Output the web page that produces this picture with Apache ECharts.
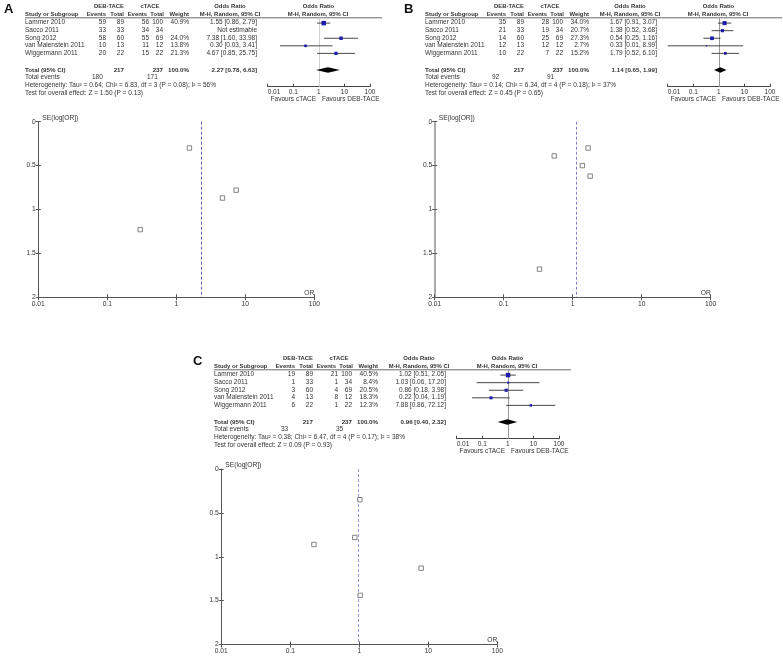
<!DOCTYPE html>
<html><head><meta charset="utf-8">
<script src="https://cdn.jsdelivr.net/npm/echarts@6/dist/echarts.min.js"></script>
<style>html,body{margin:0;padding:0;background:#fff}#c{width:783px;height:657px}</style>
</head><body><div id="c"></div>
<script>
// ---------------- DATA ----------------
const studies = ['Lammer 2010','Sacco 2011','Song 2012','van Malenstein 2011','Wiggermann 2011'];
const orTicks = ['0.01','0.1','1','10','100'];
const seTicks = ['0','0.5','1','1.5','2'];

// Panel A
const A_debEvents = [59,33,58,10,20];
const A_debTotal  = [89,33,60,13,22];
const A_cEvents   = [56,34,55,11,15];
const A_cTotal    = [100,34,69,12,22];
const A_weight    = [40.9,null,24.0,13.8,21.3];
const A_or        = [1.55,null,7.38,0.30,4.67];
const A_lo        = [0.86,null,1.60,0.03,0.85];
const A_hi        = [2.79,null,33.98,3.41,25.75];
const A_se        = [0.30,null,0.78,1.23,0.87];
const A_pooled    = [2.27,0.78,6.63];
const A_totals    = [217,237];
const A_totalEvents = [180,171];
const A_het  = 'Heterogeneity: Tau² = 0.64; Chi² = 6.83, df = 3 (P = 0.08); I² = 56%';
const A_test = 'Test for overall effect: Z = 1.50 (P = 0.13)';

// Panel B
const B_debEvents = [35,21,14,12,10];
const B_debTotal  = [89,33,60,13,22];
const B_cEvents   = [28,19,25,12,7];
const B_cTotal    = [100,34,69,12,22];
const B_weight    = [34.0,20.7,27.3,2.7,15.2];
const B_or        = [1.67,1.38,0.54,0.33,1.79];
const B_lo        = [0.91,0.52,0.25,0.01,0.52];
const B_hi        = [3.07,3.68,1.16,8.99,6.10];
const B_se        = [0.30,0.50,0.39,1.68,0.62];
const B_pooled    = [1.14,0.65,1.99];
const B_totals    = [217,237];
const B_totalEvents = [92,91];
const B_het  = 'Heterogeneity: Tau² = 0.14; Chi² = 6.34, df = 4 (P = 0.18); I² = 37%';
const B_test = 'Test for overall effect: Z = 0.45 (P = 0.65)';

// Panel C
const C_debEvents = [19,1,3,4,6];
const C_debTotal  = [89,33,60,13,22];
const C_cEvents   = [21,1,4,8,1];
const C_cTotal    = [100,34,69,12,22];
const C_weight    = [40.5,8.4,20.5,18.3,12.3];
const C_or        = [1.02,1.03,0.86,0.22,7.88];
const C_lo        = [0.51,0.06,0.18,0.04,0.86];
const C_hi        = [2.05,17.20,3.98,1.19,72.12];
const C_se        = [0.35,1.44,0.78,0.86,1.13];
const C_pooled    = [0.96,0.40,2.32];
const C_totals    = [217,237];
const C_totalEvents = [33,35];
const C_het  = 'Heterogeneity: Tau² = 0.38; Chi² = 6.47, df = 4 (P = 0.17); I² = 38%';
const C_test = 'Test for overall effect: Z = 0.09 (P = 0.93)';

// ---------------- LAYOUT ----------------
const FONT = '"Liberation Sans", Arial, Helvetica, sans-serif';
const TXT = '#333';
const panels = [
  {label:'A', tx:0,   ty:0,   fl:38.3,  ft:121.7, vline:'#d0d0d0', yAxisColor:'#555', yAxisW:1, dash:'#6060b0',
   d:{de:A_debEvents,dt:A_debTotal,ce:A_cEvents,ct:A_cTotal,w:A_weight,or:A_or,lo:A_lo,hi:A_hi,se:A_se,pool:A_pooled,tot:A_totals,te:A_totalEvents,het:A_het,test:A_test}},
  {label:'B', tx:400, ty:0,   fl:434.7, ft:121.7, vline:'#999', yAxisColor:'#aaa', yAxisW:2, dash:'#8080c8',
   d:{de:B_debEvents,dt:B_debTotal,ce:B_cEvents,ct:B_cTotal,w:B_weight,or:B_or,lo:B_lo,hi:B_hi,se:B_se,pool:B_pooled,tot:B_totals,te:B_totalEvents,het:B_het,test:B_test}},
  {label:'C', tx:189, ty:352, fl:221.3, ft:469,   vline:'#999', yAxisColor:'#555', yAxisW:1, dash:'#9a9ad8',
   d:{de:C_debEvents,dt:C_debTotal,ce:C_cEvents,ct:C_cTotal,w:C_weight,or:C_or,lo:C_lo,hi:C_hi,se:C_se,pool:C_pooled,tot:C_totals,te:C_totalEvents,het:C_het,test:C_test}}
];

const g = [];
function T(x,y,text,o){
  o = o||{};
  g.push({type:'text', x:x, y:y, silent:true, z:10,
    style:{text:String(text), fill:o.color||TXT, fontSize:o.size||6.5, fontFamily:FONT,
      fontWeight:o.bold?'bold':'normal', align:o.align||'left', verticalAlign:'middle'}});
}
function L(x1,y1,x2,y2,c,w){
  g.push({type:'line', silent:true, shape:{x1:x1,y1:y1,x2:x2,y2:y2}, style:{stroke:c||'#444', lineWidth:w||1}});
}

const grids=[], xAxes=[], yAxes=[], series=[];
const ROW0 = 22.7, ROWH = 7.6;
const HS = 5.9; // header font size
const logFmt = v => orTicks[Math.round(Math.log10(v))+2];

panels.forEach(function(p){
  const d = p.d, X = p.tx, Y = p.ty;
  // panel letter
  T(X+4, Y+9.5, p.label, {size:13, bold:true, color:'#111'});
  // headers
  T(X+109, Y+6, 'DEB-TACE', {bold:true, align:'center', size:HS});
  T(X+150, Y+6, 'cTACE', {bold:true, align:'center', size:HS});
  T(X+230, Y+6, 'Odds Ratio', {bold:true, align:'center', size:HS});
  T(X+318.5, Y+6, 'Odds Ratio', {bold:true, align:'center', size:HS});
  T(X+25, Y+14.5, 'Study or Subgroup', {bold:true, size:HS});
  T(X+106, Y+14.5, 'Events', {bold:true, align:'right', size:HS});
  T(X+124, Y+14.5, 'Total', {bold:true, align:'right', size:HS});
  T(X+147, Y+14.5, 'Events', {bold:true, align:'right', size:HS});
  T(X+164, Y+14.5, 'Total', {bold:true, align:'right', size:HS});
  T(X+189, Y+14.5, 'Weight', {bold:true, align:'right', size:HS});
  T(X+230, Y+14.5, 'M-H, Random, 95% CI', {bold:true, align:'center', size:HS});
  T(X+318, Y+14.5, 'M-H, Random, 95% CI', {bold:true, align:'center', size:HS});
  L(X+25, Y+17.8, X+382, Y+17.8, '#444', 0.8);
  // rows
  studies.forEach(function(s,i){
    const y = Y + ROW0 + i*ROWH;
    T(X+25, y, s);
    T(X+106, y, d.de[i], {align:'right'});
    T(X+124, y, d.dt[i], {align:'right'});
    T(X+149, y, d.ce[i], {align:'right'});
    T(X+163, y, d.ct[i], {align:'right'});
    if (d.w[i] != null) {
      T(X+189, y, d.w[i].toFixed(1)+'%', {align:'right'});
      T(X+257, y, d.or[i].toFixed(2)+' ['+d.lo[i].toFixed(2)+', '+d.hi[i].toFixed(2)+']', {align:'right'});
    } else {
      T(X+257, y, 'Not estimable', {align:'right'});
    }
  });
  T(X+25, Y+70, 'Total (95% CI)', {bold:true, size:6.2});
  T(X+124, Y+70, d.tot[0], {bold:true, align:'right', size:6.2});
  T(X+163, Y+70, d.tot[1], {bold:true, align:'right', size:6.2});
  T(X+189, Y+70, '100.0%', {bold:true, align:'right', size:6.2});
  T(X+257, Y+70, d.pool[0].toFixed(2)+' ['+d.pool[1].toFixed(2)+', '+d.pool[2].toFixed(2)+']', {bold:true, align:'right', size:6.2});
  T(X+25, Y+77.7, 'Total events');
  T(X+92, Y+77.7, d.te[0]);
  T(X+147, Y+77.7, d.te[1]);
  T(X+25, Y+85.3, d.het);
  T(X+25, Y+93.3, d.test);
  T(X+316, Y+99, 'Favours cTACE', {align:'right'});
  T(X+322, Y+99, 'Favours DEB-TACE', {align:'left'});

  // ---- forest grid ----
  const gi = grids.length;
  grids.push({left:X+267.7, top:Y+17.8, width:102.3, height:68.9, containLabel:false, outerBoundsMode:'none'});
  xAxes.push({type:'log', gridIndex:gi, logBase:10, min:0.01, max:100, splitNumber:4,
    axisLine:{lineStyle:{color:'#444', width:1}}, splitLine:{show:false},
    axisTick:{inside:true, length:3, lineStyle:{color:'#444'}},
    axisLabel:{fontSize:6.5, fontFamily:FONT, color:TXT, margin:2.5, formatter:logFmt, alignMinLabel:'left'}});
  yAxes.push({type:'value', gridIndex:gi, inverse:true, min:0.3, max:9.4, show:false});
  const fd = [];
  studies.forEach(function(s,i){ if (d.or[i]!=null) fd.push([d.or[i], i+1, d.lo[i], d.hi[i], d.w[i]]); });
  series.push({type:'custom', xAxisIndex:xAxes.length-1, yAxisIndex:yAxes.length-1, encode:{x:0,y:1},
    data:fd, silent:true, z:5,
    renderItem:function(params, api){
      const c = api.coord([api.value(0), api.value(1)]);
      const l = api.coord([api.value(2), api.value(1)]);
      const h = api.coord([api.value(3), api.value(1)]);
      const s = Math.max(1.4, 7*Math.sqrt(api.value(4)/100));
      return {type:'group', children:[
        {type:'line', shape:{x1:l[0],y1:c[1],x2:h[0],y2:c[1]}, style:{stroke:'#333', lineWidth:0.9}},
        {type:'rect', shape:{x:c[0]-s/2, y:c[1]-s/2, width:s, height:s}, style:{fill:'#1c1ca8'}}
      ]};
    },
    markLine:{silent:true, symbol:'none', animation:false, label:{show:false},
      lineStyle:{color:p.vline, type:'solid', width:1}, data:[{xAxis:1}]}
  });
  series.push({type:'custom', xAxisIndex:xAxes.length-1, yAxisIndex:yAxes.length-1, encode:{x:0,y:1},
    data:[[d.pool[0], 7.2, d.pool[1], d.pool[2]]], silent:true, z:6,
    renderItem:function(params, api){
      const c = api.coord([api.value(0), api.value(1)]);
      const l = api.coord([api.value(2), api.value(1)]);
      const h = api.coord([api.value(3), api.value(1)]);
      const hh = 2.8;
      return {type:'polygon', shape:{points:[[l[0],c[1]],[c[0],c[1]-hh],[h[0],c[1]],[c[0],c[1]+hh]]}, style:{fill:'#000'}};
    }
  });

  // ---- funnel grid ----
  const fg = grids.length;
  grids.push({left:p.fl, top:p.ft, width:276, height:175.5, containLabel:false, outerBoundsMode:'none'});
  const xi = xAxes.length;
  xAxes.push({type:'log', gridIndex:fg, logBase:10, min:0.01, max:100, splitNumber:4, position:'bottom',
    axisLine:{onZero:false, lineStyle:{color:'#555', width:1}}, splitLine:{show:false},
    axisTick:{inside:false, length:3, lineStyle:{color:'#555'}},
    axisLabel:{fontSize:6.7, fontFamily:FONT, color:TXT, margin:3, formatter:logFmt}});
  xAxes.push({type:'log', gridIndex:fg, logBase:10, min:0.01, max:100, splitNumber:4, position:'bottom',
    axisLine:{show:false, onZero:false}, splitLine:{show:false}, axisLabel:{show:false},
    axisTick:{inside:true, length:3, lineStyle:{color:'#555'}}});
  const yi = yAxes.length;
  yAxes.push({type:'value', gridIndex:fg, inverse:true, min:0, max:2, interval:0.5, position:'left',
    axisLine:{show:true, onZero:false, lineStyle:{color:p.yAxisColor, width:p.yAxisW}}, splitLine:{show:false},
    axisTick:{show:true, inside:false, length:2.5, lineStyle:{color:'#555'}},
    axisLabel:{fontSize:6.7, fontFamily:FONT, color:TXT, margin:2.5, formatter:function(v){return seTicks[Math.round(v*2)];}}});
  yAxes.push({type:'value', gridIndex:fg, inverse:true, min:0, max:2, interval:0.5, position:'left',
    axisLine:{show:false, onZero:false}, splitLine:{show:false}, axisLabel:{show:false},
    axisTick:{show:true, inside:true, length:2.5, lineStyle:{color:'#555'}}});
  const sd = [];
  studies.forEach(function(s,i){ if (d.se[i]!=null) sd.push([d.or[i], d.se[i]]); });
  series.push({type:'scatter', xAxisIndex:xi, yAxisIndex:yi, data:sd, symbol:'rect', symbolSize:4.4, silent:true,
    itemStyle:{color:'#fff', borderColor:'#555', borderWidth:0.9}, z:5,
    markLine:{silent:true, symbol:'none', animation:false, label:{show:false},
      lineStyle:{color:p.dash, type:[3,2], width:1}, data:[{xAxis:d.pool[0]}]}
  });
  T(p.fl+4, p.ft-3.5, 'SE(log[OR])', {size:6.7});
  T(p.fl+271, p.ft+171, 'OR', {size:6.7, align:'center'});
});

const chart = echarts.init(document.getElementById('c'), null, {renderer:'canvas'});
chart.setOption({
  animation:false,
  backgroundColor:'#fff',
  grid:grids, xAxis:xAxes, yAxis:yAxes, series:series, graphic:g
});
</script>
</body></html>
